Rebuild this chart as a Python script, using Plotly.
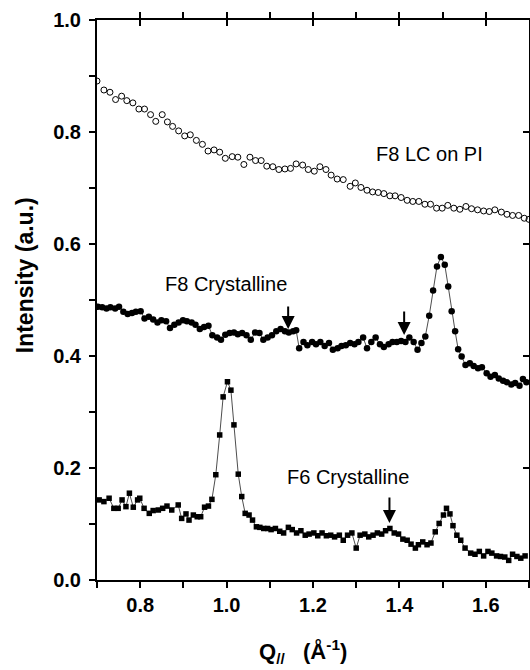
import plotly.graph_objects as go

# ---- data ----
lc_x = [0.700,0.716,0.730,0.743,0.757,0.769,0.783,0.797,0.810,0.824,0.836,0.851,0.863,0.875,0.889,0.903,0.916,0.930,0.944,0.957,0.971,0.984,0.997,1.013,1.026,1.040,1.054,1.067,1.080,1.093,1.107,1.121,1.135,1.148,1.161,1.176,1.189,1.203,1.216,1.230,1.242,1.256,1.270,1.286,1.298,1.311,1.325,1.338,1.351,1.364,1.378,1.390,1.404,1.418,1.431,1.445,1.459,1.472,1.486,1.499,1.512,1.526,1.540,1.554,1.567,1.581,1.595,1.608,1.621,1.636,1.649,1.662,1.676,1.689,1.700]
lc_y = [0.891,0.875,0.871,0.858,0.864,0.856,0.852,0.841,0.841,0.831,0.819,0.831,0.818,0.810,0.802,0.793,0.795,0.785,0.778,0.766,0.768,0.764,0.753,0.756,0.755,0.742,0.755,0.749,0.749,0.739,0.738,0.733,0.734,0.735,0.743,0.741,0.733,0.730,0.738,0.733,0.723,0.716,0.715,0.703,0.709,0.701,0.696,0.693,0.692,0.690,0.686,0.686,0.683,0.678,0.676,0.676,0.671,0.671,0.664,0.664,0.669,0.664,0.662,0.667,0.663,0.661,0.659,0.658,0.661,0.657,0.653,0.651,0.651,0.646,0.644]

f8_x = [0.702,0.712,0.722,0.731,0.742,0.751,0.761,0.771,0.781,0.790,0.801,0.810,0.820,0.830,0.840,0.849,0.860,0.869,0.879,0.889,0.899,0.908,0.919,0.928,0.938,0.948,0.958,0.967,0.978,0.987,0.997,1.007,1.017,1.026,1.036,1.046,1.056,1.066,1.076,1.085,1.095,1.105,1.115,1.125,1.135,1.144,1.154,1.161,1.168,1.178,1.187,1.198,1.207,1.217,1.227,1.237,1.246,1.257,1.266,1.276,1.286,1.296,1.305,1.316,1.325,1.335,1.345,1.355,1.364,1.375,1.384,1.394,1.404,1.414,1.423,1.433,1.442,1.451,1.460,1.469,1.478,1.487,1.496,1.505,1.513,1.521,1.529,1.536,1.544,1.553,1.563,1.572,1.582,1.591,1.602,1.611,1.621,1.630,1.640,1.649,1.659,1.668,1.678,1.686,1.694]
f8_y = [0.488,0.487,0.485,0.487,0.485,0.488,0.479,0.475,0.477,0.479,0.480,0.467,0.470,0.465,0.460,0.464,0.462,0.450,0.456,0.460,0.464,0.462,0.460,0.456,0.448,0.452,0.454,0.437,0.433,0.429,0.438,0.441,0.442,0.439,0.441,0.437,0.429,0.442,0.441,0.429,0.433,0.437,0.444,0.448,0.444,0.442,0.444,0.446,0.414,0.425,0.419,0.425,0.421,0.425,0.418,0.423,0.411,0.414,0.418,0.419,0.423,0.421,0.425,0.433,0.414,0.425,0.433,0.421,0.416,0.421,0.425,0.425,0.427,0.425,0.433,0.425,0.411,0.423,0.435,0.472,0.517,0.560,0.577,0.563,0.524,0.480,0.444,0.412,0.399,0.384,0.387,0.382,0.378,0.380,0.369,0.363,0.366,0.360,0.356,0.353,0.349,0.352,0.347,0.359,0.353]

f6_x = [0.705,0.716,0.728,0.739,0.749,0.758,0.767,0.775,0.784,0.794,0.799,0.809,0.821,0.830,0.842,0.852,0.862,0.873,0.888,0.896,0.906,0.913,0.923,0.932,0.940,0.949,0.958,0.966,0.975,0.984,0.992,1.002,1.010,1.017,1.027,1.035,1.043,1.052,1.060,1.069,1.077,1.086,1.095,1.103,1.113,1.123,1.132,1.143,1.152,1.162,1.172,1.182,1.191,1.202,1.211,1.221,1.231,1.241,1.250,1.261,1.270,1.280,1.290,1.300,1.309,1.320,1.329,1.339,1.349,1.359,1.368,1.378,1.388,1.398,1.408,1.418,1.427,1.437,1.444,1.454,1.464,1.473,1.483,1.492,1.502,1.509,1.517,1.524,1.533,1.542,1.552,1.565,1.575,1.585,1.595,1.605,1.614,1.625,1.634,1.644,1.653,1.662,1.672,1.681,1.691]
f6_y = [0.143,0.140,0.146,0.128,0.128,0.143,0.131,0.155,0.130,0.143,0.146,0.128,0.119,0.124,0.125,0.128,0.132,0.125,0.134,0.110,0.118,0.107,0.116,0.113,0.113,0.130,0.132,0.144,0.188,0.259,0.327,0.354,0.339,0.277,0.189,0.149,0.119,0.116,0.107,0.095,0.094,0.092,0.092,0.090,0.092,0.087,0.084,0.094,0.090,0.084,0.088,0.080,0.082,0.084,0.079,0.084,0.079,0.080,0.077,0.080,0.071,0.080,0.084,0.057,0.080,0.082,0.077,0.080,0.084,0.082,0.088,0.092,0.084,0.082,0.073,0.071,0.064,0.057,0.063,0.068,0.063,0.066,0.086,0.101,0.116,0.128,0.118,0.097,0.080,0.071,0.057,0.048,0.046,0.051,0.043,0.051,0.048,0.043,0.042,0.041,0.035,0.046,0.042,0.039,0.043]

labels = ["F8 LC on PI", "F8 Crystalline", "F6 Crystalline"]
label_x = [1.469, 0.998, 1.280]
label_y = [0.761, 0.529, 0.184]

arrow_x = [1.1425, 1.411, 1.377]
arrow_tail = [0.491, 0.482, 0.150]
arrow_head = [0.448, 0.4375, 0.102]

FONT = "Arial, Liberation Sans, sans-serif"

fig = go.Figure()
fig.add_trace(go.Scatter(x=lc_x, y=lc_y, mode="markers",
                         marker=dict(symbol="circle-open", size=6, color="black",
                                     line=dict(width=1, color="black"))))
fig.add_trace(go.Scatter(x=f8_x, y=f8_y, mode="lines+markers",
                         line=dict(color="black", width=0.7),
                         marker=dict(symbol="circle", size=6.5, color="black")))
fig.add_trace(go.Scatter(x=f6_x, y=f6_y, mode="lines+markers",
                         line=dict(color="black", width=0.7),
                         marker=dict(symbol="square", size=5.5, color="black")))
# dummy trace for the mirrored (top/right) axes
fig.add_trace(go.Scatter(x=[None], y=[None], xaxis="x2", yaxis="y2", showlegend=False))

for t, xx, yy in zip(labels, label_x, label_y):
    fig.add_annotation(x=xx, y=yy, xref="x", yref="y", text=t, showarrow=False,
                       font=dict(family=FONT, size=20, color="black"))

for xx, yt, yh in zip(arrow_x, arrow_tail, arrow_head):
    fig.add_annotation(x=xx, y=yh, ax=xx, ay=yt, xref="x", yref="y", axref="x", ayref="y",
                       text="", showarrow=True, arrowhead=2, arrowsize=1.3, arrowwidth=2,
                       arrowcolor="black")

fig.add_annotation(x=-0.168, y=0.545, xref="paper", yref="paper", text="<b>Intensity (a.u.)</b>",
                   textangle=-90, showarrow=False,
                   font=dict(family=FONT, size=23, color="black"), xanchor="center", yanchor="middle")
fig.add_annotation(x=0.477, y=-0.128, xref="paper", yref="paper",
                   text="<b>Q<sub>//</sub>   (Å<sup>-1</sup>)</b>", showarrow=False,
                   font=dict(family=FONT, size=22, color="black"), xanchor="center", yanchor="middle")

axis_common = dict(showgrid=False, zeroline=False, linecolor="black", linewidth=2,
                   tickcolor="black", tickwidth=1.5, ticklen=6)
minor_common = dict(ticklen=6, tickwidth=1.5, tickcolor="black", dtick=0.1, showgrid=False)

fig.update_layout(
    width=530, height=670,
    margin=dict(l=97, r=1, t=20, b=90),
    paper_bgcolor="white", plot_bgcolor="white",
    showlegend=False,
    font=dict(family=FONT, color="black"),
    xaxis=dict(range=[0.7, 1.7], tick0=0.0, dtick=0.2, tickformat=".1f",
               ticks="outside", ticklabelstandoff=0, minor=minor_common,
               tickfont=dict(family=FONT, size=20, color="black", weight="bold"),
               **axis_common),
    yaxis=dict(range=[0.0, 1.0], tick0=0.0, dtick=0.2, tickformat=".1f",
               ticks="outside", ticklabelstandoff=4, minor=minor_common,
               tickfont=dict(family=FONT, size=20, color="black", weight="bold"),
               **axis_common),
    xaxis2=dict(range=[0.7, 1.7], overlaying="x", side="top", tick0=0.0, dtick=0.2,
                showticklabels=False, ticks="inside", minor=minor_common, **axis_common),
    yaxis2=dict(range=[0.0, 1.0], overlaying="y", side="right", tick0=0.0, dtick=0.2,
                showticklabels=False, ticks="inside", minor=minor_common, **axis_common),
)

fig.write_html("out.html", config={"displayModeBar": False},
               post_script="document.body.style.margin='0';document.body.style.overflow='hidden';")
